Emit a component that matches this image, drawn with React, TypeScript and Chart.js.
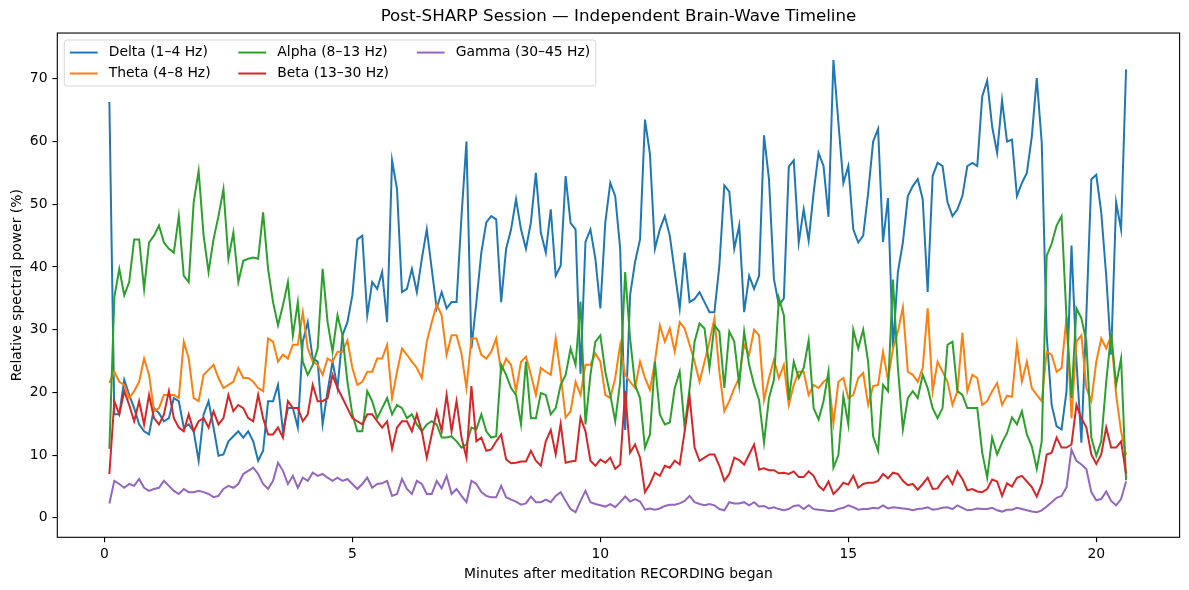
import React, { useEffect, useRef } from 'react';
import Chart from 'chart.js/auto';

const FONT = '"DejaVu Sans", "Liberation Sans", sans-serif';

// sample times, one every 6 s (0.1 min)
const minutes = Array.from({ length: 206 }, (_, i) => Math.round((i + 1)) / 10);

const delta = [
  66.3, 16.5, 16.5, 22.0, 19.6, 17.5, 14.9, 13.8, 13.3, 17.5, 16.7, 15.4, 15.9, 19.1, 18.6, 14.4, 14.9, 13.8, 9.1, 16.5, 18.6, 14.4, 9.9, 10.1, 12.2, 13.0,
  13.8, 12.8, 13.8, 12.2, 9.1, 10.7, 18.6, 18.6, 21.2, 13.8, 17.5, 17.5, 14.4, 28.1, 31.2, 25.4, 24.9, 14.9, 20.2, 24.9, 20.7, 29.1, 31.2, 35.5, 44.4, 45.0,
  32.3, 37.6, 36.5, 39.2, 31.2, 57.0, 52.4, 36.0, 36.5, 39.7, 36.0, 41.3, 46.0, 39.7, 33.4, 36.0, 33.4, 34.4, 34.4, 48.0, 60.0, 27.0, 34.4, 42.3, 47.1, 48.1,
  47.6, 34.4, 42.9, 46.0, 50.8, 46.0, 42.9, 47.1, 55.0, 45.5, 42.3, 49.2, 38.6, 40.2, 54.5, 47.0, 46.0, 23.0, 44.0, 46.0, 41.3, 33.4, 47.1, 53.4, 51.3, 42.9,
  14.0, 35.5, 40.8, 44.4, 63.5, 58.0, 42.9, 46.0, 48.1, 45.0, 39.2, 33.4, 42.3, 34.4, 34.9, 36.0, 34.4, 32.8, 32.8, 40.2, 53.0, 52.0, 42.9, 46.6, 32.8, 38.6, 36.5,
  38.6, 61.0, 54.0, 38.1, 33.9, 35.0, 56.0, 57.0, 43.9, 49.2, 44.2, 51.8, 58.2, 56.1, 48.0, 73.0, 63.0, 53.4, 56.1, 46.0, 43.9, 45.0, 51.8, 60.0, 62.0, 44.0,
  51.0, 27.0, 39.2, 43.9, 51.3, 52.9, 54.0, 50.8, 36.0, 54.5, 56.6, 56.1, 50.3, 48.1, 49.2, 51.3, 56.1, 56.6, 56.1, 67.2, 69.7, 62.4, 58.2, 66.6,
  60.0, 60.3, 51.3, 53.4, 55.0, 60.8, 70.1, 59.8, 29.1, 18.0, 14.6, 14.1, 20.2, 43.4, 25.0, 12.0, 32.3, 54.0, 54.7, 48.7, 38.6, 26.0, 50.3, 46.0, 71.5,
];

const theta = [
  21.5, 23.3, 21.7, 21.2, 19.1, 20.2, 21.7, 25.4, 22.8, 17.0, 17.5, 19.6, 19.6, 19.6, 19.1, 28.1, 25.4, 19.1, 18.6, 22.8, 23.6, 24.4, 22.3, 20.7, 21.2, 21.7,
  23.9, 22.3, 22.3, 21.7, 20.7, 20.2, 28.6, 28.1, 24.9, 26.0, 25.4, 27.6, 27.6, 32.8, 27.0, 24.9, 24.4, 22.8, 25.4, 24.9, 26.5, 26.5, 28.3, 23.9, 21.2, 21.7,
  23.3, 23.3, 25.4, 25.4, 27.6, 19.1, 23.3, 27.0, 26.0, 24.9, 23.9, 22.3, 28.1, 31.2, 34.0, 32.3, 26.0, 29.1, 29.1, 26.2, 20.7, 28.6, 28.6, 26.0, 25.4, 26.5,
  28.6, 23.3, 25.4, 24.4, 20.2, 24.9, 25.7, 22.8, 19.6, 23.9, 23.3, 22.8, 28.6, 22.8, 16.0, 17.0, 21.7, 19.6, 24.4, 24.4, 26.2, 24.9, 19.6, 19.1, 22.3, 27.6,
  22.8, 21.7, 20.7, 24.9, 22.3, 20.4, 24.9, 30.7, 28.1, 30.2, 26.5, 31.2, 30.2, 27.6, 24.9, 21.7, 24.9, 28.1, 31.8, 23.3, 17.0, 18.6, 20.7, 22.3, 27.6, 26.0, 30.0,
  29.1, 18.8, 22.3, 25.2, 22.3, 24.4, 18.0, 21.2, 23.3, 23.3, 19.6, 21.2, 20.7, 21.7, 22.3, 15.1, 21.7, 22.3, 19.1, 19.6, 22.3, 23.1, 18.0, 21.0, 21.2, 26.5,
  22.0, 27.0, 29.7, 33.6, 23.3, 22.8, 21.7, 23.9, 33.4, 20.2, 24.9, 23.3, 21.7, 18.0, 20.2, 29.5, 20.2, 22.8, 22.3, 18.0, 18.6, 20.2, 21.5, 18.0,
  19.5, 19.3, 27.6, 21.7, 24.9, 20.7, 19.6, 18.6, 26.5, 26.0, 23.3, 23.9, 32.0, 15.9, 28.1, 29.1, 20.7, 18.6, 24.9, 28.6, 27.0, 29.1, 19.6, 13.8, 10.0,
];

const alpha = [
  11.0, 35.2, 39.7, 35.5, 37.6, 44.4, 44.4, 36.5, 43.9, 45.0, 46.6, 43.9, 42.9, 42.3, 48.1, 38.6, 37.6, 50.3, 55.3, 45.0, 39.2, 44.4, 48.1, 52.4, 41.3, 45.5,
  37.6, 41.0, 41.3, 41.5, 41.3, 48.7, 39.7, 34.4, 30.7, 33.9, 37.6, 29.1, 34.4, 24.9, 22.8, 24.4, 27.0, 39.7, 31.2, 26.5, 32.3, 29.1, 21.7, 16.5, 13.8, 13.8,
  20.2, 18.6, 15.9, 17.5, 19.1, 16.5, 18.0, 17.5, 15.9, 16.5, 14.9, 13.8, 14.9, 15.4, 14.9, 12.8, 12.8, 13.0, 12.2, 11.2, 11.7, 14.4, 14.1, 16.5, 13.8, 12.8,
  13.0, 24.4, 22.8, 20.7, 19.6, 14.9, 24.9, 15.9, 15.9, 19.9, 19.6, 16.5, 17.5, 21.2, 22.8, 27.0, 24.4, 34.5, 14.9, 22.8, 28.1, 29.1, 23.3, 19.6, 15.4, 21.7,
  39.2, 28.6, 21.2, 19.1, 11.2, 13.3, 24.9, 16.5, 14.9, 15.2, 20.7, 23.3, 14.4, 20.7, 28.1, 31.0, 30.2, 23.9, 30.7, 29.7, 20.7, 29.7, 28.1, 21.2, 29.7, 24.4, 21.2,
  18.8, 12.0, 19.1, 22.0, 35.0, 32.3, 18.8, 24.9, 22.3, 23.9, 28.3, 17.5, 15.7, 18.6, 23.3, 8.0, 10.0, 19.4, 14.9, 30.0, 27.0, 30.0, 24.9, 13.0, 10.7, 21.2,
  20.2, 38.0, 23.9, 14.1, 19.1, 20.2, 19.1, 22.8, 20.7, 17.5, 15.9, 17.5, 27.6, 28.1, 20.2, 19.6, 17.5, 17.5, 17.5, 10.4, 6.4, 12.8, 10.1, 12.0,
  13.5, 16.0, 14.9, 17.0, 13.3, 11.4, 7.8, 12.2, 41.8, 43.7, 46.6, 48.1, 31.8, 19.1, 33.4, 31.8, 28.1, 12.8, 9.9, 12.2, 21.7, 29.4, 21.2, 25.4, 6.0,
];

const beta = [
  7.0, 18.6, 16.5, 20.2, 18.0, 15.4, 18.6, 14.9, 19.6, 15.9, 14.9, 16.5, 20.2, 15.9, 14.4, 13.8, 16.5, 13.8, 15.4, 15.9, 14.4, 17.0, 14.9, 15.9, 19.6, 17.0,
  18.0, 17.5, 15.9, 15.4, 19.6, 15.9, 13.3, 13.3, 14.4, 12.8, 18.6, 17.5, 17.5, 15.4, 16.5, 21.2, 18.6, 18.6, 19.1, 22.8, 20.7, 19.1, 17.5, 15.9, 15.4, 14.9,
  16.5, 16.5, 15.4, 14.4, 15.4, 11.0, 14.4, 15.4, 15.4, 13.8, 16.5, 13.8, 9.6, 13.3, 17.0, 13.8, 19.6, 13.8, 18.6, 12.8, 9.6, 21.0, 12.2, 12.8, 10.7, 10.9,
  12.2, 13.3, 9.3, 8.7, 8.8, 9.0, 9.0, 10.7, 9.1, 8.3, 12.2, 14.0, 10.1, 15.0, 8.8, 9.0, 9.1, 16.0, 13.8, 9.1, 8.3, 9.3, 8.8, 9.6, 7.8, 8.5,
  20.2, 10.4, 11.7, 9.6, 4.1, 5.4, 7.2, 6.7, 8.3, 8.0, 9.1, 8.5, 13.8, 19.4, 11.2, 9.1, 9.6, 10.1, 10.1, 8.3, 5.9, 7.0, 9.6, 9.2, 8.5, 10.1, 11.7,
  7.7, 7.9, 7.6, 7.6, 7.1, 7.2, 7.0, 7.4, 6.5, 6.5, 7.4, 6.7, 5.1, 4.4, 5.8, 3.8, 4.6, 5.6, 5.3, 6.7, 4.8, 5.4, 5.6, 5.6, 5.9, 7.0,
  6.3, 7.2, 7.0, 5.9, 5.2, 5.4, 4.5, 5.4, 6.4, 4.6, 4.7, 5.9, 6.7, 5.4, 7.4, 6.2, 4.4, 4.6, 4.2, 4.1, 4.6, 6.1, 5.8, 3.5,
  5.5, 5.0, 6.4, 6.7, 5.8, 4.9, 3.4, 5.4, 10.1, 10.4, 12.8, 11.2, 11.2, 11.7, 18.0, 15.9, 14.4, 10.1, 8.6, 10.1, 14.4, 11.2, 11.2, 12.2, 7.0,
];

const gamma = [
  2.3, 5.9, 5.4, 4.8, 5.4, 5.1, 6.2, 4.8, 4.3, 4.6, 4.8, 5.9, 5.1, 4.3, 3.8, 4.6, 4.1, 4.1, 4.3, 4.1, 3.8, 3.3, 3.5, 4.6, 5.1, 4.8,
  5.4, 7.0, 7.5, 8.0, 7.0, 5.4, 4.6, 5.9, 8.8, 7.5, 5.4, 6.7, 4.8, 6.4, 5.9, 7.2, 6.7, 7.0, 6.4, 5.9, 6.4, 5.9, 6.2, 5.4, 4.6, 5.4,
  6.4, 4.8, 5.4, 5.5, 5.9, 3.5, 3.8, 6.2, 4.6, 3.8, 5.9, 5.4, 3.8, 3.8, 5.9, 4.7, 6.7, 3.8, 4.6, 3.5, 2.5, 5.9, 5.4, 4.1, 3.5, 3.3,
  3.3, 5.1, 3.3, 2.9, 2.6, 2.1, 2.3, 3.4, 2.5, 2.5, 2.9, 2.5, 3.5, 4.1, 2.7, 1.4, 0.9, 2.7, 4.3, 2.5, 2.2, 2.0, 1.8, 2.2, 1.7, 2.5,
  3.4, 2.6, 3.0, 2.6, 1.3, 1.5, 1.3, 1.5, 1.9, 2.1, 2.1, 2.3, 2.7, 3.5, 2.5, 2.2, 2.0, 2.2, 2.0, 1.4, 1.2, 2.5, 2.3, 2.3, 2.5, 2.0, 2.5,
  1.8, 1.9, 1.5, 1.7, 1.4, 1.2, 1.4, 1.9, 2.0, 1.4, 2.0, 1.4, 1.3, 1.2, 1.1, 1.1, 1.4, 1.6, 2.0, 1.7, 1.3, 1.4, 1.4, 1.6, 1.5, 2.0,
  1.5, 1.7, 1.6, 1.5, 1.4, 1.2, 1.4, 1.5, 1.7, 1.3, 1.4, 1.6, 1.7, 1.4, 2.0, 1.6, 1.2, 1.3, 1.5, 1.4, 1.4, 1.6, 1.2, 1.0,
  1.3, 1.3, 1.6, 1.4, 1.2, 1.0, 0.9, 1.2, 1.8, 2.5, 3.2, 3.5, 4.9, 10.9, 9.1, 8.5, 7.8, 4.1, 2.8, 3.0, 4.2, 2.7, 2.0, 3.0, 5.8,
];

const seriesNames = ['Delta (1–4 Hz)', 'Theta (4–8 Hz)', 'Alpha (8–13 Hz)', 'Beta (13–30 Hz)', 'Gamma (30–45 Hz)'];
const seriesData = [delta, theta, alpha, beta, gamma];
const seriesColors = ['#1f77b4', '#ff7f0e', '#2ca02c', '#d62728', '#9467bd'];

// matplotlib-style box around the axes
const framePlugin = {
  id: 'frame',
  afterDatasetsDraw(chart: any) {
    const { ctx, chartArea } = chart;
    ctx.save();
    ctx.strokeStyle = '#000';
    ctx.lineWidth = 1.1;
    ctx.strokeRect(chartArea.left, chartArea.top, chartArea.right - chartArea.left, chartArea.bottom - chartArea.top);
    ctx.restore();
  },
};

// legend inside the axes, filled column by column (3 columns)
const legendPlugin = {
  id: 'mplLegend',
  afterDraw(chart: any) {
    const { ctx, chartArea } = chart;
    const fs = 13.9;
    const pad = 0.4 * fs;
    const handleLen = 2 * fs;
    const textPad = 0.8 * fs;
    const colSpace = 2 * fs;
    const rowGap = 0.5 * fs;
    const rowH = 14;
    const cols = [[0, 1], [2, 3], [4]];
    ctx.save();
    ctx.font = `${fs}px ${FONT}`;
    const widths = cols.map((c) => Math.max(...c.map((i) => ctx.measureText(seriesNames[i]).width)));
    const boxW = pad * 2 + widths.reduce((a, w) => a + handleLen + textPad + w, 0) + colSpace * (cols.length - 1);
    const boxH = pad * 2 + rowH * 2 + rowGap;
    const x0 = chartArea.left + 0.5 * fs;
    const y0 = chartArea.top + 0.5 * fs;
    ctx.beginPath();
    ctx.roundRect(x0, y0, boxW, boxH, 2.8);
    ctx.fillStyle = 'rgba(255,255,255,0.8)';
    ctx.fill();
    ctx.strokeStyle = '#d6d6d6';
    ctx.lineWidth = 1;
    ctx.stroke();
    let cx = x0 + pad;
    cols.forEach((c, ci) => {
      c.forEach((si, ri) => {
        const cy = y0 + pad + rowH / 2 + ri * (rowH + rowGap);
        ctx.strokeStyle = seriesColors[si];
        ctx.lineWidth = 2;
        ctx.beginPath();
        ctx.moveTo(cx, cy);
        ctx.lineTo(cx + handleLen, cy);
        ctx.stroke();
        ctx.fillStyle = '#000';
        ctx.textAlign = 'left';
        ctx.textBaseline = 'middle';
        ctx.fillText(seriesNames[si], cx + handleLen + textPad, cy);
      });
      cx += handleLen + textPad + widths[ci] + colSpace;
    });
    ctx.restore();
  },
};

export default function App() {
  const canvasRef = useRef<HTMLCanvasElement>(null);
  const chartRef = useRef<Chart | null>(null);

  useEffect(() => {
    document.body.style.margin = '0';
    if (!canvasRef.current) return;
    if (chartRef.current) chartRef.current.destroy();

    const tickFont = { family: FONT, size: 13.9 };

    chartRef.current = new Chart(canvasRef.current, {
      type: 'line',
      data: {
        datasets: seriesData.map((vals, si) => ({
          label: seriesNames[si],
          data: minutes.map((m, i) => ({ x: m, y: vals[i] })),
          borderColor: seriesColors[si],
          backgroundColor: seriesColors[si],
          borderWidth: 2,
          pointRadius: 0,
          tension: 0,
          fill: false,
          order: seriesData.length - si,
        })),
      },
      options: {
        responsive: false,
        animation: false,
        events: [],
        layout: { padding: { left: 0, right: 9.4, top: 0, bottom: 0 } },
        plugins: {
          legend: { display: false },
          tooltip: { enabled: false },
          title: {
            display: true,
            text: 'Post-SHARP Session — Independent Brain-Wave Timeline',
            color: '#000',
            font: { family: FONT, size: 16.7, weight: 'normal' },
            padding: { top: 7, bottom: 6 },
            fullSize: false,
          },
        },
        scales: {
          x: {
            type: 'linear',
            min: -0.95,
            max: 21.68,
            afterFit: (s: any) => { s.height = 52.7; },
            border: { display: false },
            grid: { drawOnChartArea: false, drawTicks: true, tickLength: 4.9, color: '#000', lineWidth: 1.1 },
            ticks: { stepSize: 5, includeBounds: false, color: '#000', font: tickFont, padding: 3.5, maxRotation: 0 },
            title: {
              display: true,
              text: 'Minutes after meditation RECORDING began',
              color: '#000',
              font: tickFont,
              padding: { top: 0, bottom: 7.7 },
            },
          },
          y: {
            type: 'linear',
            min: -3.1,
            max: 77.3,
            afterFit: (s: any) => { s.width = 57.3; },
            border: { display: false },
            grid: { drawOnChartArea: false, drawTicks: true, tickLength: 4.9, color: '#000', lineWidth: 1.1 },
            ticks: { stepSize: 10, includeBounds: false, color: '#000', font: tickFont, padding: 4.9 },
            title: {
              display: true,
              text: 'Relative spectral power (%)',
              color: '#000',
              font: tickFont,
              padding: { top: 8.7, bottom: 0 },
            },
          },
        },
      },
      plugins: [framePlugin, legendPlugin],
    });

    return () => {
      if (chartRef.current) {
        chartRef.current.destroy();
        chartRef.current = null;
      }
    };
  }, []);

  return (
    <div style={{ width: 1189, height: 590, background: '#fff' }}>
      <canvas ref={canvasRef} width={1189} height={590} />
    </div>
  );
}
